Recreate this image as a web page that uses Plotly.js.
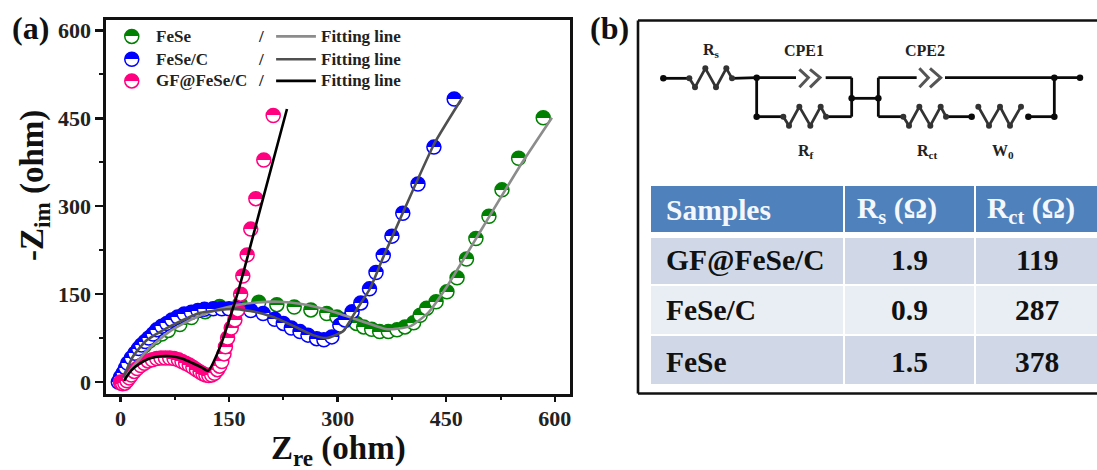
<!DOCTYPE html>
<html><head><meta charset="utf-8">
<script src="https://cdn.plot.ly/plotly-3.0.1.min.js"></script>
<style>html,body{margin:0;padding:0;background:#fff;overflow:hidden}#c{width:1097px;height:470px}</style>
</head><body><div id="c"></div>
<script>
const feseX=[0,3,6,10,15,20,26,33,40,48,57,66,82,98,117,137,165,191,216,240,263,285,299,313,326,336,347,358,370,382,393,405,414,423,436,451,465,478,491,509,527,550,584];
const feseY=[0,6,13,22,33,43,53,62,70,76,82,88,98,110,120,129,134,136,132,128,123,117,111,106,100,94,90,86,86,89,94,101,114,126,137,154,178,210,245,283,328,382,451];
const fesecX=[-3,0,3.5,7,10,15,20,25,29,34,39,45,50,57,64,71,79,88,98,107,116,128,140,150,162,180,197,213,225,236,248,259,271,281,292,303,310,320,332,344,353,363,375,390,411,433,461];
const fesecY=[0,8,15,24,32,41,49,57,63,69,75,82,89,95,100,106,111,116,119,122,124,125,125,125,125,122,117,107,100,92,86,80,74,72,77,97,106,120,135,159,187,216,249,288,338,401,483];
const gfX=[0,1,3,6,9,12,15,19,23,28,33,38,44,50,56,62,68,74,80,85,90,95,100,105,110,114,118,122,126,130,134,137,140,143,145,148,153,158,162,166,169,175,180,187,198,211];
const gfY=[0,-2,-3,-2,2,7,12,18,23,28,32,36,38,40,41,41,41,40,38,35,32,29,25,21,17,14,12,11,12,15,21,27,35,48,60,75,92,106,123,150,181,217,261,313,379,455];
const fitFeseX=[5,20,40,70,100,130,160,190,220,250,294,335,368,400,425,451,501,550,596];
const fitFeseY=[5,30,58,88,108,122,131,136,137,133,120,103,90,95,118,163,265,365,451];
const fitFesecX=[4,17,35,64,85,110,155,185,211,240,266,285,307,326,345,363,393,434,473];
const fitFesecY=[8,43,70,92,105,118,124.5,120,111,95,80,75,86,123,160,213,297,408,487];
const fitGfX=[5,8,15,25,40,55,70,85,100,112,121,137,162,190,230];
const fitGfY=[2,8,20,30,40,44,44,40,32,25,19,58,152,281,466];

const legendNames=['FeSe','FeSe/C','GF@FeSe/C'];
const legendX=[15.6,15.6,15.6], legendY=[590,551,514];
const sampleColors=['#008000','#0000ff','#ff0080'];
const fitColors=['#8c8c8c','#505050','#000000'];

const tableHeader=['Samples','R<sub>s</sub> (Ω)','R<sub>ct</sub> (Ω)'];
const tableSamples=['GF@FeSe/C','FeSe/C','FeSe'];
const tableRs=['1.9','0.9','1.5'];
const tableRct=['119','287','378'];
const colEdges=[[651,843],[845,974],[976,1097]];
const rowEdges=[[186,232],[238,284],[286,334],[336,384]];
const rowColors=['#4f81bd','#d0d8e8','#e9edf4','#d0d8e8'];
const textRows=[210,260,310,362];

const wires=[
 [[70,148],[205,205]],[[276,350],[205,203]],[[350,468],[203,203]],[[350,350],[203,320]],[[350,430],[320,320]],
 [[558,635],[320,320]],[[557,635],[203,203]],[[635,635],[203,320]],[[635,715],[265,265]],[[715,715],[203,320]],
 [[715,830],[203,203]],[[915,1320],[203,203]],[[1243,1243],[203,320]],[[1165,1243],[320,320]],[[715,790],[320,320]],[[918,995],[320,320]]
];
const zigzags=[
 [[148,165,196,228,259,276],[205,232,175,232,175,205]],
 [[430,447,478,511,542,558],[320,347,290,347,290,320]],
 [[790,807,838,871,902,918],[320,347,290,347,290,320]],
 [[1015,1047,1080,1110,1143],[290,347,290,347,290]]
];
const chevrons=[
 [[478,505,478],[178,203,232]],[[510,540,510],[178,203,232]],
 [[838,865,838],[175,203,232]],[[870,902,870],[175,203,232]]
];
const nodesX=[70,350,350,635,715,995,1165,1243,1243,1320];
const nodesY=[205,203,320,265,265,320,320,203,320,203];
const circuitLabels=[['R<sub>s</sub>',213,122],['CPE1',493,122],['CPE2',855,122],['R<sub>f</sub>',497,425],['R<sub>ct</sub>',863,425],['W<sub>0</sub>',1088,425]];

const W=1097,H=470, serif='"Liberation Serif", "Times New Roman", serif';
const px=(v)=>v/W, py=(v)=>1-v/H;

function samples(x,y,c){return {type:'scatter',mode:'markers',x,y,cliponaxis:false,hoverinfo:'skip',
  marker:{size:14,color:c,symbol:'circle',line:{color:c,width:1.5},gradient:{type:'vertical',color:'#ffffff'}}};}
function fit(x,y,c){return {type:'scatter',mode:'lines',x,y,hoverinfo:'skip',line:{color:c,width:2.6,shape:'spline',smoothing:0.5}};}

const traces=[
 samples(feseX,feseY,sampleColors[0]),
 samples(fesecX,fesecY,sampleColors[1]),
 samples(gfX,gfY,sampleColors[2]),
 fit(fitFeseX,fitFeseY,fitColors[0]),
 fit(fitFesecX,fitFesecY,fitColors[1]),
 fit(fitGfX,fitGfY,fitColors[2]),
];
legendNames.forEach((n,i)=>{
  traces.push(samples([legendX[i]],[legendY[i]],sampleColors[i]));
  traces.push({type:'scatter',mode:'lines',x:[215,270],y:[legendY[i],legendY[i]],hoverinfo:'skip',line:{color:fitColors[i],width:2.6}});
});
wires.forEach(w=>traces.push({type:'scatter',mode:'lines',xaxis:'x2',yaxis:'y2',x:w[0],y:w[1],hoverinfo:'skip',line:{color:'#0a0a0a',width:2.8}}));
zigzags.forEach(z=>traces.push({type:'scatter',mode:'lines+markers',xaxis:'x2',yaxis:'y2',x:z[0],y:z[1],hoverinfo:'skip',line:{color:'#333',width:2.8},marker:{color:'#333',size:6}}));
chevrons.forEach(z=>traces.push({type:'scatter',mode:'lines',xaxis:'x2',yaxis:'y2',x:z[0],y:z[1],hoverinfo:'skip',line:{color:'#555',width:3}}));
traces.push({type:'scatter',mode:'markers',xaxis:'x2',yaxis:'y2',x:nodesX,y:nodesY,hoverinfo:'skip',marker:{color:'#0a0a0a',size:6.5}});

const annotations=[];
const note=(text,x,y,size,extra)=>annotations.push(Object.assign({text:'<b>'+text+'</b>',x:px(x),y:py(y),xref:'paper',yref:'paper',showarrow:false,
   font:{family:serif,size,color:'#111'},xanchor:'left',yanchor:'middle'},extra||{}));
note('(a)',10,28,32);
note('(b)',588,28,32);
note('-Z<sub>im</sub> (ohm)',34,186,33,{textangle:-90,xanchor:'center'});
note('Z<sub>re</sub> (ohm)',338,450,33,{xanchor:'center'});
legendNames.forEach((n,i)=>{
  const y=legendY[i];
  const f={family:serif,size:17,color:'#222'};
  annotations.push({text:'<b>'+n+'</b>',x:46,y,xref:'x',yref:'y',showarrow:false,xanchor:'left',font:f});
  annotations.push({text:'<b>/</b>',x:187,y,xref:'x',yref:'y',showarrow:false,xanchor:'left',font:f});
  annotations.push({text:'<b>Fitting line</b>',x:274,y,xref:'x',yref:'y',showarrow:false,xanchor:'left',font:f});
});
circuitLabels.forEach(l=>annotations.push({text:'<b>'+l[0]+'</b>',x:l[1],y:l[2],xref:'x2',yref:'y2',showarrow:false,font:{family:serif,size:16,color:'#222'}}));

const hdrFont={family:serif,size:29.5,color:'#f4f7fb'};
note(tableHeader[0],664,textRows[0],29.5,{font:hdrFont});
note(tableHeader[1],897,textRows[0],29.5,{xanchor:'center',font:hdrFont});
note(tableHeader[2],1031,textRows[0],29.5,{xanchor:'center',font:hdrFont});
tableSamples.forEach((s,i)=>{
  note(s,664,textRows[i+1],29.5);
  note(tableRs[i],909,textRows[i+1],29.5,{xanchor:'center'});
  note(tableRct[i],1037,textRows[i+1],29.5,{xanchor:'center'});
});

const tableShapes=[];
rowEdges.forEach((r,ri)=>colEdges.forEach(c=>tableShapes.push({type:'rect',xref:'paper',yref:'paper',layer:'below',
   x0:px(c[0]),x1:px(c[1]),y0:py(r[1]),y1:py(r[0]),line:{width:0},fillcolor:rowColors[ri]})));

const axisBase={showgrid:false,zeroline:false,showline:true,mirror:true,linecolor:'#111',linewidth:2.6,
  ticks:'outside',tickwidth:2.4,tickcolor:'#111',tickmode:'array',
  tickfont:{family:serif,size:22,weight:700,color:'#222'},
  tickvals:[0,150,300,450,600],ticktext:['0','150','300','450','600']};
const minor=(len)=>({ticks:'outside',ticklen:len,tickwidth:2,tickcolor:'#111',dtick:75,tick0:0,showgrid:false});
const hidden={visible:false,showgrid:false,zeroline:false,fixedrange:true};
const layout={width:W,height:H,margin:{l:0,r:0,t:0,b:0},paper_bgcolor:'#fff',plot_bgcolor:'#fff',showlegend:false,
  xaxis:Object.assign({},axisBase,{domain:[px(106),px(570)],range:[-20,621],anchor:'y',ticklen:5,minor:minor(3),ticklabelstandoff:-2}),
  yaxis:Object.assign({},axisBase,{domain:[py(394),py(20)],range:[-20.5,618],anchor:'x',ticklen:8,minor:minor(4)}),
  xaxis2:Object.assign({},hidden,{domain:[px(640),px(1097)],range:[0,1371],anchor:'y2'}),
  yaxis2:Object.assign({},hidden,{domain:[py(180),py(10)],range:[510,0],anchor:'x2'}),
  shapes:[
   {type:'line',xref:'paper',yref:'paper',x0:px(638),x1:px(638),y0:py(393.5),y1:py(20.5),line:{color:'#111',width:2.6}},
   {type:'line',xref:'paper',yref:'paper',x0:px(638),x1:1,y0:py(20.5),y1:py(20.5),line:{color:'#111',width:2.6}},
   {type:'line',xref:'paper',yref:'paper',x0:px(638),x1:1,y0:py(393.5),y1:py(393.5),line:{color:'#111',width:2.6}}
  ].concat(tableShapes),
  annotations};
Plotly.newPlot('c',traces,layout,{staticPlot:true,displayModeBar:false}).then(()=>{
  document.querySelectorAll('#c linearGradient stop').forEach(s=>s.setAttribute('offset','50%'));
});
</script></body></html>
